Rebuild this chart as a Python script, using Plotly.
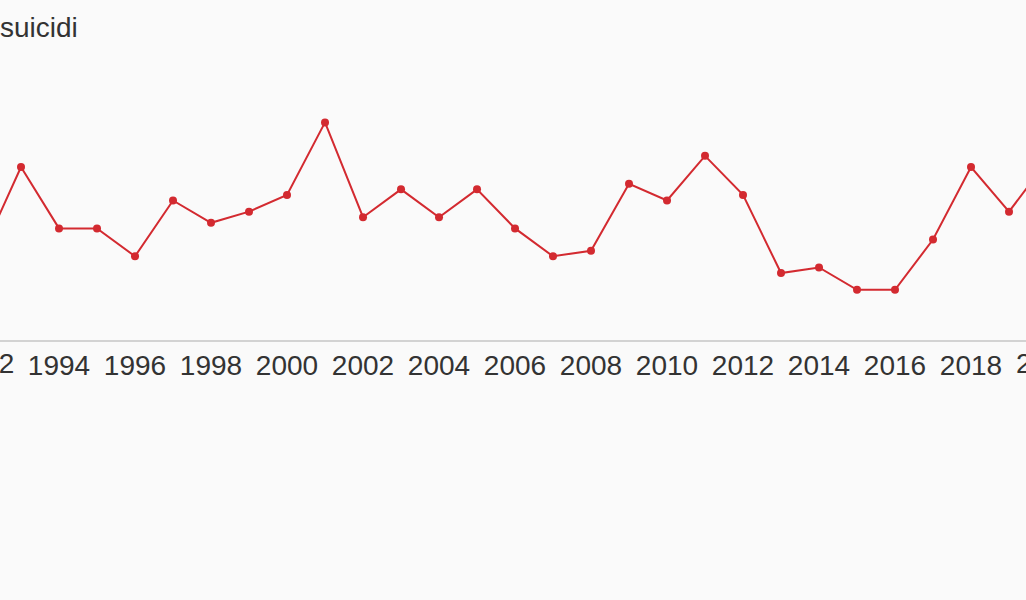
import plotly.graph_objects as go

years = list(range(1992, 2021))
suicidi = [16, 31, 20, 20, 15, 25, 21, 23, 26, 39, 22, 27, 22, 27, 20, 15, 16,
           28, 25, 33, 26, 12, 13, 9, 9, 18, 31, 23, 32]
tick_years = list(range(1994, 2019, 2))
edge_labels = [1992, 2020]
x_range = [1992.447, 2019.447]

FONT = "Liberation Sans, Arial, sans-serif"

fig = go.Figure()
fig.add_trace(go.Scatter(
    x=years, y=suicidi, mode="lines+markers",
    line=dict(color="#d32a30", width=2),
    marker=dict(color="#d32a30", size=8),
    hoverinfo="x+y", showlegend=False,
))

# partially visible tick labels just outside the visible range
for yr in edge_labels:
    px = (yr - x_range[0]) / (x_range[1] - x_range[0])
    fig.add_annotation(x=px, y=0, xref="paper", yref="paper", yanchor="top",
                       xanchor="center", yshift=-6, text=str(yr), showarrow=False,
                       font=dict(size=28, color="#333333", family=FONT))

fig.update_layout(
    width=1026, height=600,
    paper_bgcolor="#fafafa", plot_bgcolor="#fafafa",
    margin=dict(l=0, r=0, t=61, b=260),
    font=dict(family=FONT, color="#333333"),
    title=dict(text="suicidi", x=0, xref="paper", xanchor="left", y=0.955, yanchor="middle",
               font=dict(size=28, color="#333333")),
    xaxis=dict(range=x_range, tickvals=tick_years, ticktext=[str(t) for t in tick_years],
               showgrid=False, zeroline=False, showline=True, linecolor="#d3d3d3", linewidth=2,
               ticks="", ticklabelstandoff=-1, tickfont=dict(size=28, color="#333333")),
    yaxis=dict(range=[0, 50], visible=False, showgrid=False, zeroline=False),
)

fig.write_html("out.html", config={"displayModeBar": False},
               post_script="document.body.style.margin='0';document.body.style.background='#fafafa';")
